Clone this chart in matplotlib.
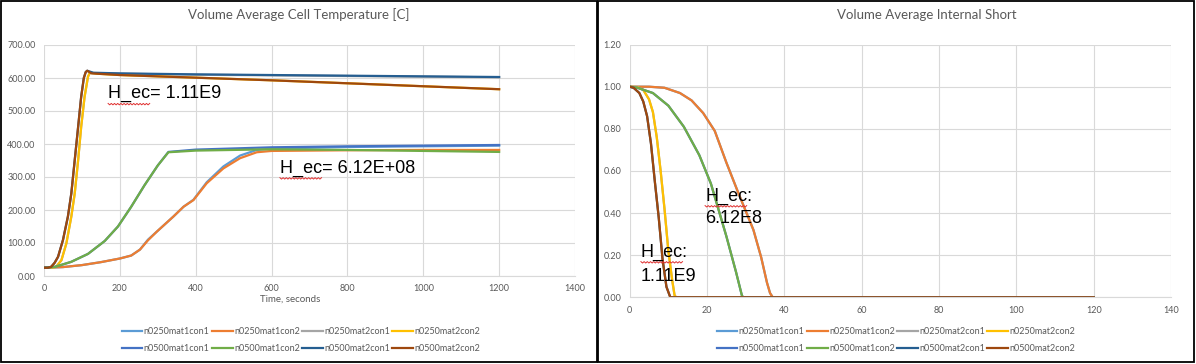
#!/usr/bin/env python3
"""Volume average cell temperature and internal short for the eight runs."""

import matplotlib

matplotlib.use("Agg")
import matplotlib.pyplot as plt
from matplotlib.lines import Line2D
from matplotlib.patches import Rectangle
from matplotlib.transforms import IdentityTransform

FONT = "Liberation Sans"
LABEL_FONT = "Lato"
GREY_TEXT = "#595959"
GRID = "#D9D9D9"

SERIES = [
    "n0250mat1con1", "n0250mat1con2", "n0250mat2con1", "n0250mat2con2",
    "n0500mat1con1", "n0500mat1con2", "n0500mat2con1", "n0500mat2con2",
]
COLORS = [
    "#5B9BD5", "#ED7D31", "#A5A5A5", "#FFC000",
    "#4472C4", "#70AD47", "#255E91", "#9E480E",
]

# --- temperature [C] vs time [s] ---
t_n0250mat1con1 = [0, 50, 100, 150, 200, 230, 253, 274, 297, 341, 368, 394, 429, 473, 517, 561, 600, 800, 1000, 1200]
T_n0250mat1con1 = [25, 27, 33, 42, 53, 62, 80, 110, 134, 180, 210, 231, 284, 332, 365, 382, 386, 391, 393, 395]
t_n0250mat1con2 = [0, 50, 100, 150, 200, 230, 253, 274, 297, 341, 368, 394, 429, 473, 517, 561, 600, 800, 1000, 1200]
T_n0250mat1con2 = [25, 27, 33, 42, 53, 62, 80, 108, 134, 180, 210, 230, 281, 326, 357, 375, 379, 381, 382, 382]
t_n0250mat2con1 = [0, 20, 32, 46, 59, 72, 81, 90, 98, 107, 116, 121, 140, 200, 400, 600, 800, 1000, 1200]
T_n0250mat2con1 = [25, 25, 28, 48, 99, 180, 250, 351, 452, 543, 604, 616, 614, 613, 610, 608, 606, 604, 602]
t_n0250mat2con2 = [0, 20, 32, 46, 59, 72, 81, 90, 98, 107, 116, 121, 140, 200, 400, 600, 800, 1000, 1200]
T_n0250mat2con2 = [25, 25, 28, 48, 99, 180, 250, 351, 452, 543, 604, 616, 613, 609, 601, 593, 584, 575, 566]
t_n0500mat1con1 = [0, 30, 72, 116, 160, 195, 230, 265, 300, 328, 400, 600, 800, 1000, 1200]
T_n0500mat1con1 = [25, 28, 43, 67, 106, 150, 210, 275, 335, 376, 383, 390, 393, 395, 397]
t_n0500mat1con2 = [0, 30, 72, 116, 160, 195, 230, 265, 300, 328, 400, 600, 800, 1000, 1200]
T_n0500mat1con2 = [25, 28, 43, 67, 106, 150, 210, 275, 335, 375, 380, 384, 382, 379, 376]
t_n0500mat2con1 = [0, 10, 19, 28, 37, 50, 63, 72, 81, 90, 98, 105, 110, 114, 130, 200, 400, 600, 800, 1000, 1200]
T_n0500mat2con1 = [25, 25, 28, 40, 58, 109, 180, 250, 351, 452, 543, 600, 618, 622, 616, 614, 611, 609, 607, 605, 603]
t_n0500mat2con2 = [0, 10, 19, 28, 37, 50, 63, 72, 81, 90, 98, 105, 110, 114, 125, 200, 400, 600, 800, 1000, 1200]
T_n0500mat2con2 = [25, 25, 28, 40, 58, 109, 180, 250, 351, 452, 543, 600, 618, 622, 614, 609, 601, 593, 584, 575, 566]

# --- internal short fraction vs time ---
s_t_n0250mat1con2 = [0, 5, 9, 13, 16, 19, 22, 25, 28, 30, 32, 34, 35.5, 36.3, 37, 120]
s_n0250mat1con2 = [1.0, 1.0, 0.995, 0.97, 0.935, 0.875, 0.79, 0.64, 0.5, 0.41, 0.32, 0.19, 0.07, 0.02, 0.0, 0.0]
s_t_n0500mat1con2 = [0, 2, 6, 10, 14, 18, 21, 25, 27.5, 29, 29.3, 120]
s_n0500mat1con2 = [1.0, 0.995, 0.97, 0.91, 0.81, 0.675, 0.54, 0.29, 0.12, 0.01, 0.0, 0.0]
s_t_n0250mat2con2 = [0, 2, 3.5, 5, 6, 7, 8, 9, 10, 11, 11.6, 12, 120]
s_n0250mat2con2 = [1.0, 0.998, 0.985, 0.94, 0.88, 0.76, 0.6, 0.42, 0.22, 0.08, 0.01, 0.0, 0.0]
s_t_n0500mat2con2 = [0, 1, 2.5, 3.5, 4.5, 5.5, 6.5, 7.5, 8.5, 9.5, 10.5, 120]
s_n0500mat2con2 = [1.0, 0.995, 0.97, 0.93, 0.86, 0.73, 0.55, 0.38, 0.18, 0.05, 0.0, 0.0]
# the con1 runs sit underneath their con2 partners
s_t_n0250mat1con1, s_n0250mat1con1 = s_t_n0250mat1con2, s_n0250mat1con2
s_t_n0250mat2con1, s_n0250mat2con1 = s_t_n0250mat2con2, s_n0250mat2con2
s_t_n0500mat1con1, s_n0500mat1con1 = s_t_n0500mat1con2, s_n0500mat1con2
s_t_n0500mat2con1, s_n0500mat2con1 = s_t_n0500mat2con2, s_n0500mat2con2

W, H = 1196, 364


def fx(px):
    return px / W


def fy(py):
    return 1 - py / H


def style_axes(ax, xmax, ymax, ystep):
    ax.set_xlim(0, xmax)
    ax.set_ylim(0, ymax)
    ax.set_yticks([i * ystep for i in range(round(ymax / ystep) + 1)])
    ax.yaxis.set_major_formatter("{x:.2f}")
    ax.grid(True, color=GRID, linewidth=0.8)
    ax.set_axisbelow(True)
    for side in ("top", "right", "left"):
        ax.spines[side].set_visible(False)
    ax.spines["bottom"].set_color(GRID)
    ax.tick_params(length=0, labelsize=6.5, labelcolor=GREY_TEXT, pad=6)
    for lbl in ax.get_xticklabels() + ax.get_yticklabels():
        lbl.set_family(LABEL_FONT)


def note(ax, x, y, text):
    """Annotation text with the red spell-check squiggle under 'H_ec'."""
    ax.text(x, y, text, family=FONT, fontsize=13, va="center")
    probe = ax.text(x, y, "H_ec", family=FONT, fontsize=13, va="center", alpha=0)
    if "H_ec" not in text:
        return
    box = probe.get_window_extent(fig.canvas.get_renderer())
    xs, ys = [], []
    px, k = box.x0, 0
    while px <= box.x1:
        xs.append(px)
        ys.append(box.y0 - 1 - (k % 2) * 1.4)
        px += 1.6
        k += 1
    fig.add_artist(Line2D(xs, ys, transform=IdentityTransform(),
                          color="#E03030", linewidth=0.7))


fig = plt.figure(figsize=(W / 100, H / 100), dpi=100)

# panel borders
for x0, x1 in ((1, 597), (598, 1194)):
    fig.add_artist(Rectangle((fx(x0), fy(362)), fx(x1 - x0), (362 - 1) / H,
                             transform=fig.transFigure, fill=False,
                             edgecolor="black", linewidth=1.3))

# left: temperature
ax1 = fig.add_axes([fx(44), fy(276), fx(531), 231 / H])
temp_t = [t_n0250mat1con1, t_n0250mat1con2, t_n0250mat2con1, t_n0250mat2con2,
          t_n0500mat1con1, t_n0500mat1con2, t_n0500mat2con1, t_n0500mat2con2]
temp_v = [T_n0250mat1con1, T_n0250mat1con2, T_n0250mat2con1, T_n0250mat2con2,
          T_n0500mat1con1, T_n0500mat1con2, T_n0500mat2con1, T_n0500mat2con2]
lines = []
for name, color, xs, ys in zip(SERIES, COLORS, temp_t, temp_v):
    (ln,) = ax1.plot(xs, ys, color=color, linewidth=1.6, label=name)
    lines.append(ln)
style_axes(ax1, 1400, 700, 100)
ax1.set_xticks(range(0, 1401, 200))
note(ax1, 169, 552, "H_ec= 1.11E9")
note(ax1, 622, 327, "H_ec= 6.12E+08")
fig.text(fx(299), fy(15), "Volume Average Cell Temperature [C]", family=LABEL_FONT,
         fontsize=9.5, color=GREY_TEXT, ha="center", va="center")
fig.text(fx(290), fy(299), "Time, seconds", family=LABEL_FONT, fontsize=7,
         color=GREY_TEXT, ha="center", va="center")

# right: internal short
ax2 = fig.add_axes([fx(629.7), fy(297.3), fx(541.3), 252.7 / H])
short_t = [s_t_n0250mat1con1, s_t_n0250mat1con2, s_t_n0250mat2con1, s_t_n0250mat2con2,
           s_t_n0500mat1con1, s_t_n0500mat1con2, s_t_n0500mat2con1, s_t_n0500mat2con2]
short_v = [s_n0250mat1con1, s_n0250mat1con2, s_n0250mat2con1, s_n0250mat2con2,
           s_n0500mat1con1, s_n0500mat1con2, s_n0500mat2con1, s_n0500mat2con2]
for name, color, xs, ys in zip(SERIES, COLORS, short_t, short_v):
    ax2.plot(xs, ys, color=color, linewidth=1.6, label=name)
style_axes(ax2, 140, 1.2, 0.2)
ax2.set_xticks(range(0, 141, 20))
note(ax2, 19.5, 0.481, "H_ec:")
note(ax2, 19.5, 0.376, "6.12E8")
note(ax2, 2.9, 0.215, "H_ec:")
note(ax2, 2.9, 0.101, "1.11E9")
fig.text(fx(927), fy(15), "Volume Average Internal Short", family=LABEL_FONT,
         fontsize=9.5, color=GREY_TEXT, ha="center", va="center")

# legend is filled column by column, so interleave to get two rows of four
order = [0, 4, 1, 5, 2, 6, 3, 7]
for cx in (301, 896):
    fig.legend([lines[i] for i in order], [SERIES[i] for i in order],
               loc="center", ncol=4, bbox_to_anchor=(fx(cx), fy(340)),
               frameon=False, prop={"family": LABEL_FONT, "size": 6.5},
               handlelength=2.3, handletextpad=0.15, columnspacing=0.25,
               labelspacing=0.9, labelcolor=GREY_TEXT, borderpad=0.2)

fig.savefig("out.png", dpi=100)
